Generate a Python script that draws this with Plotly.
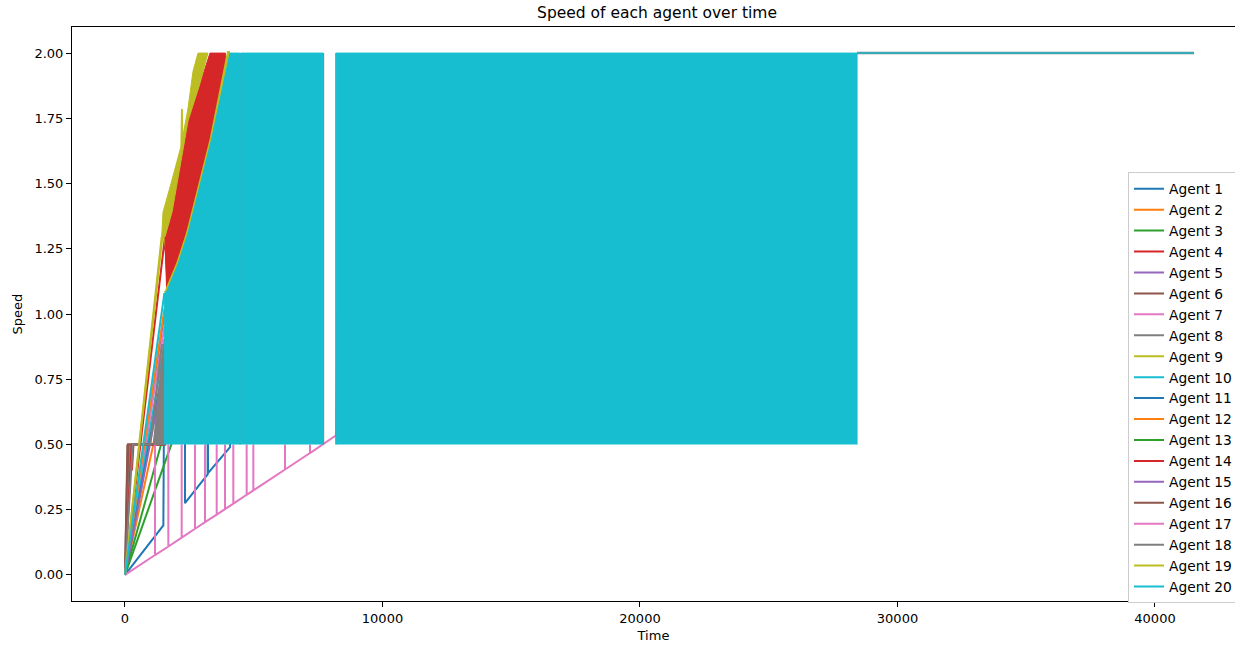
import plotly.graph_objects as go

# matplotlib "tab10" cycle used for the agents
PALETTE = ["#1f77b4", "#ff7f0e", "#2ca02c", "#d62728", "#9467bd",
           "#8c564b", "#e377c2", "#7f7f7f", "#bcbd22", "#17becf"]

# ---- per-agent speed samples (time, speed) ----
a01_t = [0, 1490, 1530, 2330, 2330, 3210, 3210, 3225, 4080, 4150, 4400]
a01_v = [0, 0.19, 0.90, 0.90, 0.275, 0.385, 0.90, 0.39, 0.49, 1.20, 1.20]
a02_t = [0, 1100, 1540, 2000]
a02_v = [0, 0.50, 0.75, 0.80]
a03_t = [0, 1800, 1950]
a03_v = [0, 0.50, 0.62]
a04_t = [0, 1553, 1650]
a04_v = [0, 1.296, 1.12]
a05_t = [0, 1530, 1900]
a05_v = [0, 1.00, 1.00]
a06_t = [0, 110, 115, 125, 1600]
a06_v = [0, 0.50, 0.37, 0.50, 0.50]
a07_t = [0, 1530, 1800]
a07_v = [0, 0.95, 0.95]
a08_t = [0, 200, 205, 260, 1600]
a08_v = [0, 0.50, 0.42, 0.50, 0.50]
a09_t = [0, 1480, 1600]
a09_v = [0, 1.32, 1.25]
a10_t = [0, 1530, 1700]
a10_v = [0, 0.88, 0.90]
a11_t = [0, 1530, 1700]
a11_v = [0, 0.82, 0.85]
a12_t = [0, 1530, 1700]
a12_v = [0, 1.02, 1.00]
a13_t = [0, 1400, 1560, 1700]
a13_v = [0, 0.50, 0.58, 0.60]
a14_t = [0, 260, 270, 330, 1530, 1618]
a14_v = [0, 0.50, 0.40, 0.50, 0.50, 1.085]
a15_t = [0, 1200, 1540, 1700]
a15_v = [0, 0.62, 0.85, 0.90]
a16_t = [0, 95, 100, 118, 1540]
a16_v = [0, 0.50, 0.36, 0.50, 0.50]
a18_t = [0, 300, 980, 1430, 1530]
a18_v = [0, 0.50, 0.50, 0.88, 0.88]
a19_t = [0, 1425]
a19_v = [0, 1.296]
a20_t = [0, 1530]
a20_v = [0, 1.08]

# agent 17: slow ramp with short spikes up to the 0.5 floor
a17_spike_t = [1165, 1683, 2201, 2718, 3107, 3561, 3883, 4207, 4725, 4984, 6214, 7184]
a17_trough_v = [0.076, 0.109, 0.143, 0.177, 0.202, 0.231, 0.252, 0.273, 0.307, 0.324, 0.404, 0.467]
a17_spike_top = 0.5
a17_end_t = [8200, 8260]
a17_end_v = [0.535, 1.00]

# ---- dense oscillation envelopes (filled) ----
# agent 20: oscillating between 0.5 and its ceiling
a20_band1_t = [1530, 1530, 1618, 1748, 2071, 2450, 3366, 4078, 4450, 4450]
a20_band1_v = [0.5, 1.08, 1.085, 1.118, 1.194, 1.31, 1.67, 2.0, 2.0, 0.5]
a20_band2_t = [4490, 4490, 7700, 7700]
a20_band2_v = [0.5, 2.0, 2.0, 0.5]
a20_band3_t = [8200, 8200, 28430, 28430]
a20_band3_v = [0.5, 2.0, 2.0, 0.5]
a20_tail_t = [28430, 41515]
a20_tail_v = [2.0, 2.0]

# agent 14 envelope
a14_band_t = [1618, 1553, 1825, 2447, 3301, 3900, 3900, 2000, 1618]
a14_band_v = [1.085, 1.296, 1.39, 1.74, 2.0, 2.0, 1.5, 1.15, 1.085]

# agent 19 envelope (jagged leading edge) and its ridge along agent 20
a19_band_t = [1425, 1476, 1760, 2100, 2170, 2195, 2225, 2245, 2450, 2641, 2835, 3223,
              2900, 2447, 1825, 1553, 1425]
a19_band_v = [1.296, 1.39, 1.49, 1.62, 1.64, 1.785, 1.785, 1.68, 1.79, 1.93, 2.0, 2.0,
              1.88, 1.74, 1.39, 1.296, 1.296]
a19_ridge_t = [1560, 1618, 1748, 2071, 2450, 3366, 4030, 4078]
a19_ridge_v = [1.08, 1.085, 1.118, 1.194, 1.31, 1.67, 2.0, 2.0]

# agent 18 envelope near the start and isolated full-range swings
a18_band_t = [1080, 1530, 1530, 1460]
a18_band_v = [0.5, 0.5, 0.88, 0.88]
a18_swing_t = [4470, 4470, None, 7712, 7712, None, 8190, 8190]
a18_swing_v = [0.5, 2.0, None, 0.5, 2.0, None, 0.5, 2.0]
a18_tail_t = [28430, 41515]
a18_tail_v = [2.0, 2.0]

x_ticks = [0, 10000, 20000, 30000, 40000]
y_ticks = [0.0, 0.25, 0.5, 0.75, 1.0, 1.25, 1.5, 1.75, 2.0]

# build agent 17 path from its spikes
a17_t, a17_v = [0], [0]
for t, v in zip(a17_spike_t, a17_trough_v):
    a17_t += [t, t, t + 1]
    a17_v += [v, a17_spike_top, v]
a17_t += a17_end_t
a17_v += a17_end_v

lines = [
    (a01_t, a01_v), (a02_t, a02_v), (a03_t, a03_v), (a04_t, a04_v), (a05_t, a05_v),
    (a06_t, a06_v), (a07_t, a07_v), (a08_t, a08_v), (a09_t, a09_v), (a10_t, a10_v),
    (a11_t, a11_v), (a12_t, a12_v), (a13_t, a13_v), (a14_t, a14_v), (a15_t, a15_v),
    (a16_t, a16_v), (a17_t, a17_v), (a18_t, a18_v), (a19_t, a19_v), (a20_t, a20_v),
]

extras = {
    14: [("fill", a14_band_t, a14_band_v)],
    18: [("fill", a18_band_t, a18_band_v), ("line", a18_swing_t, a18_swing_v),
         ("tailgrey", a18_tail_t, a18_tail_v)],
    19: [("fill", a19_band_t, a19_band_v), ("ridge", a19_ridge_t, a19_ridge_v)],
    20: [("fill", a20_band1_t, a20_band1_v), ("fill", a20_band2_t, a20_band2_v),
         ("fill", a20_band3_t, a20_band3_v), ("tail", a20_tail_t, a20_tail_v)],
}

fig = go.Figure()
for i, (t, v) in enumerate(lines, start=1):
    color = PALETTE[(i - 1) % 10]
    name = f"Agent {i}"
    fig.add_trace(go.Scatter(x=t, y=v, mode="lines", name=name, legendgroup=name,
                             line=dict(color=color, width=2)))
    for kind, et, ev in extras.get(i, []):
        if kind == "fill":
            fig.add_trace(go.Scatter(x=et, y=ev, mode="lines", fill="toself",
                                     fillcolor=color, line=dict(color=color, width=1),
                                     legendgroup=name, showlegend=False))
        elif kind == "ridge":
            fig.add_trace(go.Scatter(x=et, y=ev, mode="lines", legendgroup=name,
                                     showlegend=False, line=dict(color=color, width=4)))
        elif kind == "tailgrey":
            fig.add_trace(go.Scatter(x=et, y=ev, mode="lines", legendgroup=name,
                                     showlegend=False, line=dict(color=color, width=2.5)))
        elif kind == "tail":
            fig.add_trace(go.Scatter(x=et, y=ev, mode="lines", legendgroup=name,
                                     showlegend=False, opacity=0.7,
                                     line=dict(color=color, width=2)))
        else:
            fig.add_trace(go.Scatter(x=et, y=ev, mode="lines", legendgroup=name,
                                     showlegend=False, line=dict(color=color, width=1.2)))

font = "DejaVu Sans, Arial, sans-serif"
fig.update_layout(
    width=1235, height=645,
    margin=dict(l=72, r=0, t=27, b=44, autoexpand=False),
    paper_bgcolor="white", plot_bgcolor="white",
    font=dict(family=font, size=13, color="black"),
    title=dict(text="Speed of each agent over time", x=0.532, xref="container",
               xanchor="center", y=0.98, yref="container", yanchor="middle",
               font=dict(size=15.5, color="black")),
    xaxis=dict(range=[-2058, 43107], tickvals=x_ticks,
               ticktext=[str(x) for x in x_ticks], ticks="outside", ticklen=5,
               tickcolor="black", showline=True, linecolor="black", linewidth=1,
               mirror=True, showgrid=False, zeroline=False,
               title=dict(text="Time", font=dict(size=13), standoff=6)),
    yaxis=dict(range=[-0.1, 2.1], tickvals=y_ticks,
               ticktext=[f"{y:.2f}" for y in y_ticks], ticks="outside", ticklen=5,
               tickcolor="black", showline=True, linecolor="black", linewidth=1,
               showgrid=False, zeroline=False,
               title=dict(text="Speed", font=dict(size=13), standoff=8)),
    legend=dict(x=0.908, y=0.747, xanchor="left", yanchor="top",
                bgcolor="white", bordercolor="#cccccc", borderwidth=1,
                font=dict(size=13.8), tracegroupgap=0),
    showlegend=True,
)

fig.write_html("out.html", config={"displayModeBar": False})
